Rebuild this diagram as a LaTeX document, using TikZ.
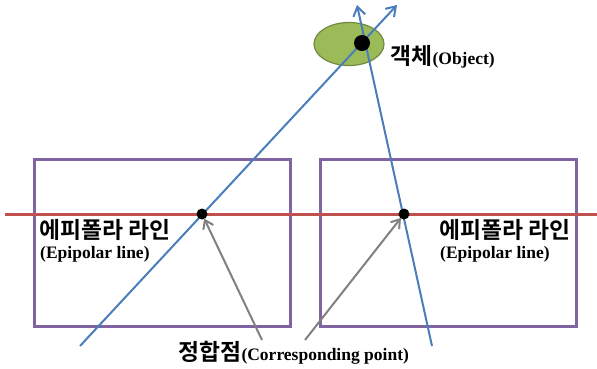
\documentclass[tikz,border=0pt]{standalone}
\usepackage{fontspec}
\setmainfont{Liberation Serif}
\newfontfamily\kr{Noto Sans CJK KR}[BoldFont={* Bold}]
\usetikzlibrary{arrows.meta,shapes.geometric}
\definecolor{rectc}{RGB}{128,100,162}
\definecolor{redc}{RGB}{192,80,77}
\definecolor{bluec}{RGB}{74,126,187}
\definecolor{greenf}{RGB}{155,187,89}
\definecolor{greend}{RGB}{113,137,63}
\definecolor{grayc}{RGB}{128,128,128}
\tikzset{
  frame/.style={draw=rectc,line width=3pt},
  epiline/.style={draw=redc,line width=3pt},
  ray/.style={draw=bluec,line width=2pt,-{Straight Barb[length=9pt,width=12pt,line width=2pt]}},
  pointer/.style={draw=grayc,line width=2pt,-{Straight Barb[length=8pt,width=11pt,line width=2pt]},shorten >=5pt},
  dot/.style={circle,fill=black,inner sep=0pt,minimum size=#1},
  krtxt/.style={inner sep=0pt,font=\kr\bfseries\fontsize{22.8}{22.8}\selectfont},
  lattxt/.style={inner sep=0pt,font=\bfseries\fontsize{17.5}{17.5}\selectfont},
}
\begin{document}
\begin{tikzpicture}[x=1pt,y=-1pt]
\useasboundingbox (0,0) rectangle (597,368);
% frames
\node[frame,minimum width=256pt,minimum height=167pt,inner sep=0pt] (leftimg) at (162.5,242.5) {};
\node[frame,minimum width=256pt,minimum height=167pt,inner sep=0pt] (rightimg) at (448,242.5) {};
% epipolar line
\coordinate (e1) at (5,214);
\coordinate (e2) at (597,214);
\draw[epiline] (e1) -- (e2);
% object
\node[draw=greend,fill=greenf,line width=1.2pt,ellipse,minimum width=70pt,minimum height=43pt] (obj) at (349,44) {};
% rays
\coordinate (r1s) at (80,346);
\coordinate (r1e) at (397,5);
\coordinate (r2s) at (432,346);
\coordinate (r2e) at (357,5);
\draw[ray] (r1s) -- (r1e);
\draw[ray] (r2s) -- (r2e);
% points
\node[dot=16pt] (op) at (362,43) {};
\node[dot=11pt] (pl) at (202,214) {};
\node[dot=11pt] (pr) at (404,214) {};
% pointers
\coordinate (gl) at (262,340);
\coordinate (gr) at (305,340);
\draw[pointer] (gl) -- (pl.center);
\draw[pointer] (gr) -- (pr.center);
% labels
\node[krtxt,anchor=base west] (lk) at (39,238) {에피폴라 라인};
\node[lattxt,anchor=base west] (ll) at (40,258) {(Epipolar line)};
\node[krtxt,anchor=base west] (rk) at (439,238) {에피폴라 라인};
\node[lattxt,anchor=base west] (rl) at (440,258) {(Epipolar line)};
\node[krtxt,anchor=base west] (ok) at (390,64) {객체};
\node[lattxt,anchor=base west] (ol) at (ok.base east) {(Object)};
\node[krtxt,anchor=base west] (ck) at (178,360) {정합점};
\node[lattxt,anchor=base west] (cl) at (ck.base east) {(Corresponding point)};
\end{tikzpicture}
\end{document}
